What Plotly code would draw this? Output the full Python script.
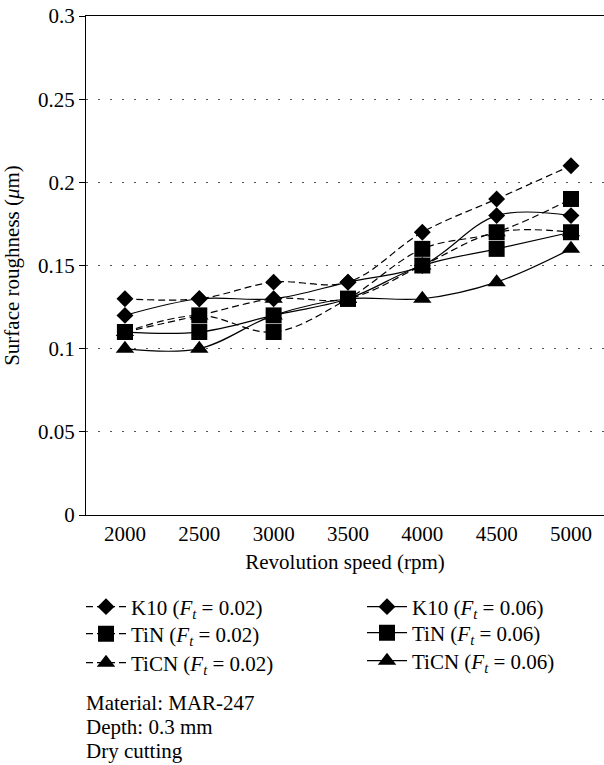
import plotly.graph_objects as go

speeds = [2000, 2500, 3000, 3500, 4000, 4500, 5000]
tick_labels = ["2000", "2500", "3000", "3500", "4000", "4500", "5000"]

k10_002 = [0.13, 0.13, 0.14, 0.14, 0.17, 0.19, 0.21]
tin_002 = [0.11, 0.12, 0.11, 0.13, 0.16, 0.17, 0.19]
ticn_002 = [0.11, 0.12, 0.13, 0.13, 0.15, 0.17, 0.17]
k10_006 = [0.12, 0.13, 0.13, 0.14, 0.15, 0.18, 0.18]
tin_006 = [0.11, 0.11, 0.12, 0.13, 0.15, 0.16, 0.17]
ticn_006 = [0.10, 0.10, 0.12, 0.13, 0.13, 0.14, 0.16]

notes = ["Material: MAR-247", "Depth: 0.3 mm", "Dry cutting"]

FONT = "Liberation Serif"
FS = 21
W, H = 604, 765
ML, MR, MT, MB = 86, 0, 16, 250
PH = H - MT - MB
PW = W - ML - MR

def px_x(p):
    return (p - ML) / PW

def px_y(p):
    return (H - MB - p) / PH

def name(tool, ft):
    return f"{tool} (<i>F</i><sub><i>t</i></sub> = {ft})"

# (values, tool, ft, symbol, size, dash, legend id, legend x px, legend y px)
series = [
    (ticn_002, "TiCN", "0.02", "triangle-up", 16, "7px,4px", "legend3", 81, 663),
    (ticn_006, "TiCN", "0.06", "triangle-up", 16, "solid", "legend6", 362, 661),
    (tin_002, "TiN", "0.02", "square", 16, "7px,4px", "legend2", 81, 634),
    (tin_006, "TiN", "0.06", "square", 16, "solid", "legend5", 362, 633),
    (k10_006, "K10", "0.06", "diamond", 13, "solid", "legend4", 362, 607),
    (k10_002, "K10", "0.02", "diamond", 13, "7px,4px", "legend", 81, 607),
]

fig = go.Figure()
legends = {}
for vals, tool, ft, sym, size, dash, leg, lx, ly in series:
    fig.add_trace(go.Scatter(
        x=speeds, y=vals, mode="lines+markers",
        name=name(tool, ft),
        line=dict(color="black", width=1.2, dash=dash, shape="spline", smoothing=1),
        marker=dict(symbol=sym, size=size, color="black", line=dict(width=0)),
        legend=leg,
    ))
    legends[leg] = dict(
        x=px_x(lx), y=px_y(ly), xanchor="left", yanchor="middle",
        bgcolor="rgba(0,0,0,0)", font=dict(family=FONT, size=FS),
        itemwidth=40, tracegroupgap=0,
    )

annotations = []
for i, t in enumerate(notes):
    annotations.append(dict(
        text=t, xref="paper", yref="paper",
        x=-0.004, y=-0.376 - i * 0.048,
        xanchor="left", yanchor="middle", align="left", showarrow=False,
        font=dict(family=FONT, size=FS, color="black"),
    ))

fig.update_layout(
    width=W, height=H,
    margin=dict(l=ML, r=MR, t=MT, b=MB),
    plot_bgcolor="white", paper_bgcolor="white",
    font=dict(family=FONT, size=FS, color="black"),
    showlegend=True,
    annotations=annotations,
    **legends,
)

fig.update_xaxes(
    range=[1738, 5222], tickvals=speeds, ticktext=tick_labels,
    showgrid=False, zeroline=False, showline=True, linecolor="black",
    linewidth=1.3, mirror=True, ticks="",
    title=dict(text="Revolution speed (rpm)", font=dict(family=FONT, size=FS), standoff=8),
)
fig.update_yaxes(
    range=[0, 0.3], dtick=0.05, tick0=0,
    showgrid=True, gridcolor="#555555", griddash="1.5px,10.5px", gridwidth=1.2,
    zeroline=False, showline=True, linecolor="black", linewidth=1.3,
    ticks="outside", ticklen=6, tickcolor="black", tickwidth=1.2,
    title=dict(text="Surface roughness (<i>μ</i>m)", font=dict(family=FONT, size=FS), standoff=12),
)

fig.write_html("out.html")
